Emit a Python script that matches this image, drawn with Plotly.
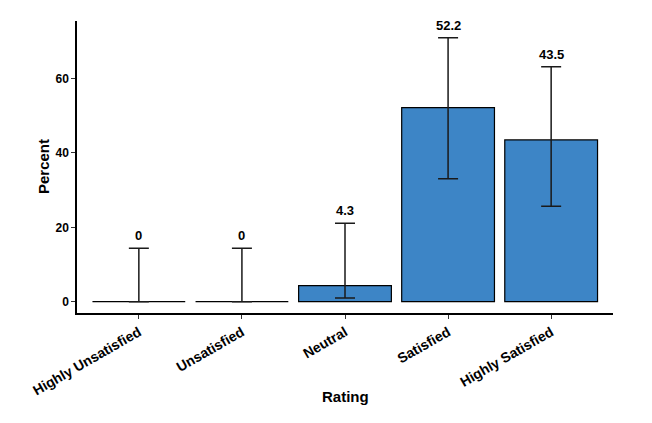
import plotly.graph_objects as go

categories = ["Highly Unsatisfied", "Unsatisfied", "Neutral", "Satisfied", "Highly Satisfied"]
percent = [0, 0, 4.3, 52.2, 43.5]
upper_ci = [14.4, 14.4, 21.1, 71.0, 63.2]
lower_ci = [0, 0, 1.0, 33.1, 25.7]
labels = ["0", "0", "4.3", "52.2", "43.5"]

err_plus = [u - p for u, p in zip(upper_ci, percent)]
err_minus = [p - l for p, l in zip(percent, lower_ci)]

FONT = "Liberation Sans, Arial, sans-serif"

fig = go.Figure()
fig.add_trace(go.Bar(
    x=list(range(len(categories))), y=percent, width=0.9,
    marker=dict(color="#3D85C6", line=dict(color="black", width=1.2)),
    error_y=dict(type="data", array=err_plus, arrayminus=err_minus,
                 color="#1a1a1a", thickness=1.5, width=10, visible=True),
    showlegend=False, hoverinfo="skip",
))
for i, (u, t) in enumerate(zip(upper_ci, labels)):
    fig.add_annotation(x=i, y=u, text="<b>%s</b>" % t, showarrow=False,
                       yanchor="bottom", yshift=3,
                       font=dict(family=FONT, size=13, color="black"))

fig.add_annotation(text="<b>Rating</b>", xref="paper", yref="paper", x=0.5, y=0,
                   yshift=-83, xanchor="center", yanchor="middle", showarrow=False,
                   font=dict(family=FONT, size=15, color="black"))
fig.add_annotation(text="<b>Percent</b>", xref="paper", yref="paper", x=0, y=0.5,
                   xshift=-34, xanchor="center", yanchor="middle", showarrow=False,
                   textangle=-90, font=dict(family=FONT, size=15, color="black"))

fig.update_layout(
    width=652, height=423,
    margin=dict(l=77, r=39, t=21, b=110, autoexpand=False),
    plot_bgcolor="white", paper_bgcolor="white",
    font=dict(family=FONT, color="black"),
)
fig.update_xaxes(
    range=[-0.6, 4.6], tickmode="array", tickvals=list(range(len(categories))),
    ticktext=["<b>%s</b>" % c for c in categories], tickangle=-30,
    showline=True, linecolor="black", linewidth=1.5, ticks="outside", ticklen=4,
    tickcolor="#333", tickfont=dict(family=FONT, size=14, color="black"),
    showgrid=False, zeroline=False, automargin=False,
)
fig.update_yaxes(
    range=[-3.04, 75.5], tickvals=[0, 20, 40, 60],
    ticktext=["<b>0</b>", "<b>20</b>", "<b>40</b>", "<b>60</b>"],
    showline=True, linecolor="black", linewidth=1.5, ticks="outside", ticklen=4,
    tickcolor="#333", tickfont=dict(family=FONT, size=12, color="black"),
    showgrid=False, zeroline=False, automargin=False,
)

fig.write_html("out.html")
